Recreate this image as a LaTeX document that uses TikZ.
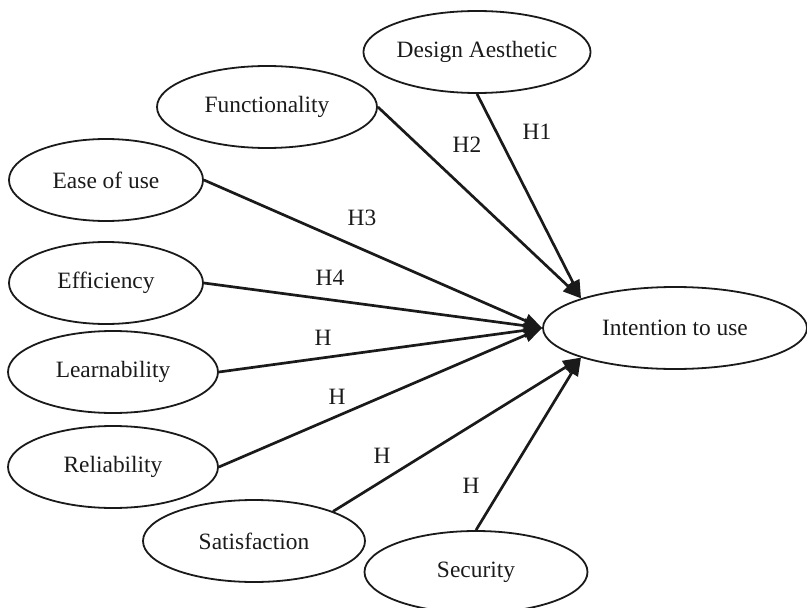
\documentclass[tikz,border=0pt]{standalone}
\usepackage{fontspec}
\setmainfont{Liberation Serif}
\usetikzlibrary{shapes.geometric,arrows.meta}
\definecolor{ink}{HTML}{1A1A1A}
\begin{document}
\begin{tikzpicture}[x=1bp,y=-1bp,
  construct/.style={ellipse,draw=ink,line width=1.8bp,inner sep=0pt,
    minimum height=82bp,text=ink,font=\fontsize{23.5}{26}\selectfont},
  path/.style={draw=ink,line width=2.7bp,
    -{Triangle[length=18bp,width=14bp]}},
  hyp/.style={text=ink,font=\fontsize{23.5}{26}\selectfont,inner sep=0pt}]
\useasboundingbox (0,0) rectangle (807,608);

% constructs
\node[construct,minimum width=224bp] (da)  at (477,52)  {Design Aesthetic};
\node[construct,minimum width=220bp] (fn)  at (267,107) {Functionality};
\node[construct,minimum width=194bp] (eu)  at (106,180) {Ease of use};
\node[construct,minimum width=194bp] (ef)  at (106,283) {Efficiency};
\node[construct,minimum width=210bp] (le)  at (113,372) {Learnability};
\node[construct,minimum width=210bp] (re)  at (113,467) {Reliability};
\node[construct,minimum width=222bp] (sa)  at (254,541) {Satisfaction};
\node[construct,minimum width=223bp] (se)  at (476,572) {Security};
\node[construct,minimum width=264bp] (int) at (675,328) {Intention to use};

% hypothesised paths
\draw[path] (da.south) -- (int.north west);
\draw[path] (fn.east)  -- (int.north west);
\draw[path] (eu.east)  -- (int.west);
\draw[path] (ef.east)  -- (int.west);
\draw[path] (le.east)  -- (int.west);
\draw[path] (re.east)  -- (int.west);
\draw[path] (sa.north east) -- (int.south west);
\draw[path] (se.north) -- (int.south west);

% path labels
\node[hyp] (h1) at (537,132) {H1};
\node[hyp] (h2) at (467,145) {H2};
\node[hyp] (h3) at (362,218) {H3};
\node[hyp] (h4) at (330,278) {H4};
\node[hyp] (h5) at (323,338) {H};
\node[hyp] (h6) at (337,397) {H};
\node[hyp] (h7) at (382,456) {H};
\node[hyp] (h8) at (471,486) {H};
\end{tikzpicture}
\end{document}
